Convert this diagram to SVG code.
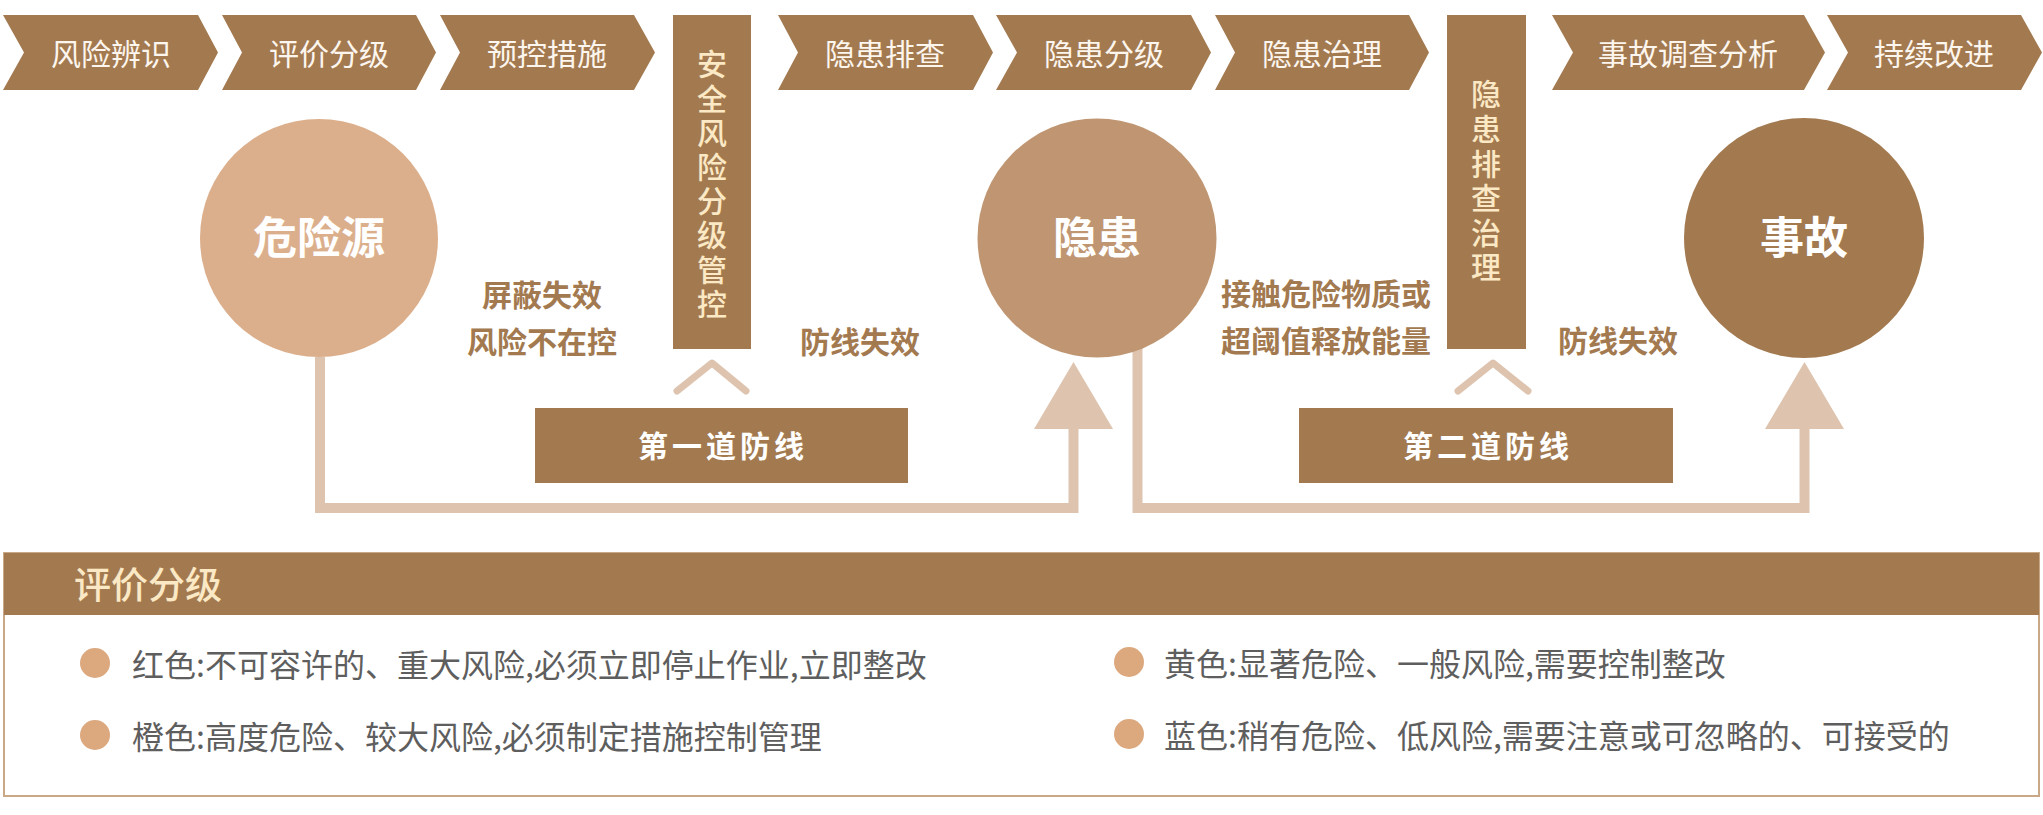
<svg xmlns="http://www.w3.org/2000/svg" width="2043" height="815" viewBox="0 0 2043 815">
<style>
.chev{fill:#a37a50}
.chevt{font-family:"Noto Sans CJK SC","Noto Sans",sans-serif;font-size:30px;fill:#fdf6ee;text-anchor:middle;dominant-baseline:central}
.vbox{fill:#a37a50}
.vt{font-family:"Noto Sans CJK SC",sans-serif;font-size:30px;font-weight:500;fill:#fbe8c4;writing-mode:vertical-rl;text-orientation:upright}
.ct{font-family:"Noto Sans CJK SC",sans-serif;font-size:44px;font-weight:bold;fill:#ffffff;text-anchor:middle;dominant-baseline:central}
.lbl{font-family:"Noto Sans CJK SC",sans-serif;font-size:30px;font-weight:bold;fill:#a37a50;text-anchor:middle;dominant-baseline:central}
.dt{font-family:"Noto Sans CJK SC",sans-serif;font-size:30px;font-weight:bold;fill:#ffffff;text-anchor:middle;dominant-baseline:central;letter-spacing:4px}
.line{fill:none;stroke:#dec4af;stroke-width:10;stroke-linejoin:miter}
.arr{fill:#dec4af}
.caret{fill:none;stroke:#dec4af;stroke-width:7;stroke-linecap:round;stroke-linejoin:round}
.lt{font-family:"Noto Sans CJK SC",sans-serif;font-size:32px;fill:#5e5e5e;dominant-baseline:central}
.bul{fill:#dca87e}
</style>

<g id="connectors">
  <path class="line" d="M320,357 V508 H1073.5 V428"/>
  <polygon class="arr" points="1034,429 1113,429 1073.5,362"/>
  <path class="line" d="M1137.5,348 V508 H1804.5 V428"/>
  <polygon class="arr" points="1765,429 1844,429 1804.5,362"/>
  <polyline class="caret" points="677,391 712,363 746,391"/>
  <polyline class="caret" points="1458,391 1493,363 1528,391"/>
</g>

<g id="step1"><path class="chev" d="M3,15 H198 L218,52.5 L198,90 H3 L24,52.5 Z"/><text class="chevt" x="111" y="52">风险辨识</text></g>
<g id="step2"><path class="chev" d="M222,15 H416 L436,52.5 L416,90 H222 L242,52.5 Z"/><text class="chevt" x="329" y="52">评价分级</text></g>
<g id="step3"><path class="chev" d="M440,15 H634 L655,52.5 L634,90 H440 L460,52.5 Z"/><text class="chevt" x="547" y="52">预控措施</text></g>
<g id="step4"><path class="chev" d="M778,15 H973 L993,52.5 L973,90 H778 L798,52.5 Z"/><text class="chevt" x="885" y="52">隐患排查</text></g>
<g id="step5"><path class="chev" d="M996,15 H1191 L1211,52.5 L1191,90 H996 L1017,52.5 Z"/><text class="chevt" x="1104" y="52">隐患分级</text></g>
<g id="step6"><path class="chev" d="M1215,15 H1409 L1429,52.5 L1409,90 H1215 L1235,52.5 Z"/><text class="chevt" x="1322" y="52">隐患治理</text></g>
<g id="step7"><path class="chev" d="M1552,15 H1804 L1825,52.5 L1804,90 H1552 L1573,52.5 Z"/><text class="chevt" x="1688" y="52">事故调查分析</text></g>
<g id="step8"><path class="chev" d="M1827,15 H2021 L2042,52.5 L2021,90 H1827 L1848,52.5 Z"/><text class="chevt" x="1934" y="52">持续改进</text></g>

<g id="vbox1">
  <rect class="vbox" x="673" y="15" width="78" height="334"/>
  <text class="vt" x="712" y="49" style="letter-spacing:4.2px">安全风险分级管控</text>
</g>
<g id="vbox2">
  <rect class="vbox" x="1447" y="15" width="79" height="334"/>
  <text class="vt" x="1486" y="79" style="letter-spacing:4.6px">隐患排查治理</text>
</g>

<g id="hazard"><circle cx="319" cy="238" r="119" fill="#dcaf8c"/><text class="ct" x="319" y="235">危险源</text></g>
<g id="hidden"><circle cx="1097" cy="238" r="119.5" fill="#c09672"/><text class="ct" x="1097" y="235">隐患</text></g>
<g id="accident"><circle cx="1804" cy="238" r="120" fill="#a37a50"/><text class="ct" x="1804" y="235">事故</text></g>

<g id="labels">
  <text class="lbl" x="542" y="293">屏蔽失效</text>
  <text class="lbl" x="542" y="340">风险不在控</text>
  <text class="lbl" x="860" y="340">防线失效</text>
  <text class="lbl" x="1326" y="292">接触危险物质或</text>
  <text class="lbl" x="1326" y="339">超阈值释放能量</text>
  <text class="lbl" x="1618" y="339">防线失效</text>
</g>

<g id="defense1"><rect class="vbox" x="535" y="408" width="373" height="75"/><text class="dt" x="723" y="444">第一道防线</text></g>
<g id="defense2"><rect class="vbox" x="1299" y="408" width="374" height="75"/><text class="dt" x="1488" y="444">第二道防线</text></g>

<g id="legend">
  <rect x="4" y="553" width="2035" height="243" fill="#ffffff" stroke="#c9a887" stroke-width="2"/>
  <rect x="4" y="553" width="2035" height="62" fill="#a37a50"/>
  <text x="74" y="583" style="font-family:'Noto Sans CJK SC',sans-serif;font-size:37px;font-weight:500;fill:#fbe8c4;dominant-baseline:central">评价分级</text>
  <circle class="bul" cx="95" cy="663" r="15"/>
  <text class="lt" x="132" y="663">红色:不可容许的、重大风险,必须立即停止作业,立即整改</text>
  <circle class="bul" cx="95" cy="735" r="15"/>
  <text class="lt" x="132" y="735">橙色:高度危险、较大风险,必须制定措施控制管理</text>
  <circle class="bul" cx="1129" cy="662" r="15"/>
  <text class="lt" x="1164" y="662">黄色:显著危险、一般风险,需要控制整改</text>
  <circle class="bul" cx="1129" cy="734" r="15"/>
  <text class="lt" x="1164" y="734">蓝色:稍有危险、低风险,需要注意或可忽略的、可接受的</text>
</g>
</svg>
